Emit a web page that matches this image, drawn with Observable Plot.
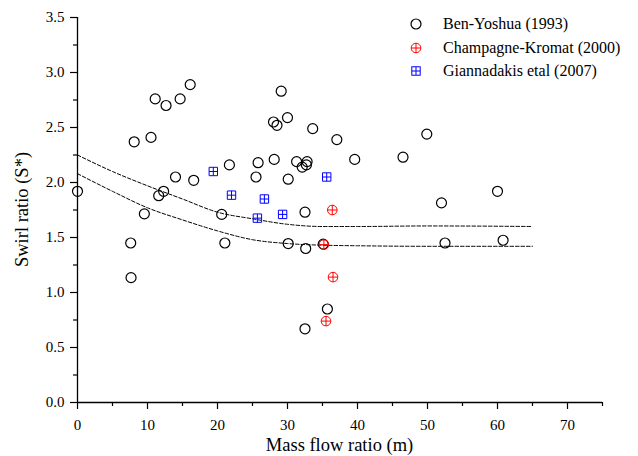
<!DOCTYPE html>
<html><head><meta charset="utf-8">
<script src="https://cdn.jsdelivr.net/npm/d3@7"></script>
<script src="https://cdn.jsdelivr.net/npm/@observablehq/plot@0.6"></script>
<style>
body{margin:0;background:#fff;}
#wrap{position:relative;width:638px;height:456px;font-family:"Liberation Serif","Times New Roman",serif;color:#000;}
#wrap svg text{font-family:"Liberation Serif","Times New Roman",serif !important;}
.sym{position:absolute;width:12px;height:12px;overflow:visible;}
.lt{position:absolute;left:443px;height:18px;line-height:18px;white-space:nowrap;font-size:16px;}
</style></head><body><div id="wrap"></div>
<script>
// Ben-Yoshua (1993)
const benX = [0, 8.1, 10.5, 11.1, 12.65, 14.66, 16.1, 14.0, 16.6, 11.6, 12.3, 21.7, 25.5, 25.8, 7.6, 7.65, 9.55, 20.6, 21.05, 29.1, 28.0, 28.5, 30.0, 33.6, 37.05, 28.1, 30.1, 31.3, 32.1, 32.7, 32.8, 39.6, 32.5, 30.1, 32.6, 35.1, 35.7, 32.5, 49.9, 46.5, 60.0, 52.0, 52.5, 60.8];
const benY = [1.92, 2.37, 2.41, 2.76, 2.70, 2.76, 2.89, 2.05, 2.02, 1.88, 1.92, 2.16, 2.05, 2.18, 1.45, 1.135, 1.715, 1.71, 1.45, 2.83, 2.55, 2.52, 2.59, 2.49, 2.39, 2.21, 2.03, 2.19, 2.14, 2.16, 2.19, 2.21, 1.73, 1.445, 1.40, 1.44, 0.85, 0.67, 2.44, 2.23, 1.92, 1.815, 1.45, 1.475];
// Champagne-Kromat (2000)
const chX = [36.4, 35.2, 36.5, 35.5];
const chY = [1.75, 1.435, 1.14, 0.74];
// Giannadakis etal (2007)
const giX = [19.4, 22.0, 35.6, 26.7, 25.7, 29.3];
const giY = [2.10, 1.885, 2.05, 1.85, 1.676, 1.71];
// dashed bounds
const bandX = [0, 5, 10, 15, 20, 25, 30, 35, 40, 50, 65];
const upperY = [2.25, 2.10, 1.97, 1.85, 1.73, 1.67, 1.62, 1.60, 1.60, 1.605, 1.60];
const lowerY = [2.08, 1.92, 1.77, 1.66, 1.56, 1.48, 1.445, 1.43, 1.425, 1.42, 1.42];
// ticks
const xMajor = [0, 10, 20, 30, 40, 50, 60, 70];
const xMinor = [5, 15, 25, 35, 45, 55, 65, 75];
const yMajor = [0, 0.5, 1, 1.5, 2, 2.5, 3, 3.5];
const yMinor = [0.25, 0.75, 1.25, 1.75, 2.25, 2.75, 3.25];
const seriesNames = ["Ben-Yoshua (1993)", "Champagne-Kromat (2000)", "Giannadakis etal (2007)"];
const xTitle = "Mass flow ratio (m)";
const yTitle = "Swirl ratio (S*)";

const zip = (xs, ys) => xs.map((x, i) => ({x, y: ys[i]}));
const ben = zip(benX, benY), ch = zip(chX, chY), gi = zip(giX, giY);
const up = zip(bandX, upperY), lo = zip(bandX, lowerY);

const circlePlus = {draw(c, size){const r=Math.sqrt(size/Math.PI); c.moveTo(r,0); c.arc(0,0,r,0,2*Math.PI); c.moveTo(-r,0); c.lineTo(r,0); c.moveTo(0,-r); c.lineTo(0,r);}};
const squareGrid = {draw(c, size){const h=Math.sqrt(size/Math.PI); c.moveTo(-h,-h); c.lineTo(h,-h); c.lineTo(h,h); c.lineTo(-h,h); c.closePath(); c.moveTo(-h,0); c.lineTo(h,0); c.moveTo(0,-h); c.lineTo(0,h);}};

const RED = "#ff0000", BLUE = "#0000ff";
const SERIF = "Liberation Serif, Times New Roman, serif";

const plot = Plot.plot({
  width: 638, height: 456,
  marginLeft: 77, marginRight: 36, marginTop: 17, marginBottom: 54,
  style: {fontFamily: SERIF, fontSize: "15px", color: "#000", background: "#fff", overflow: "visible"},
  x: {domain: [0, 75]},
  y: {domain: [0, 3.5]},
  marks: [
    Plot.axisX(xMajor, {tickSize: 7, tickPadding: 10, tickFormat: d => String(d), label: null, fontFamily: SERIF, fontSize: 15, stroke: "#000", strokeWidth: 1.2, strokeOpacity: 1}),
    Plot.axisX(xMinor, {tickSize: 4, tickFormat: () => "", label: null, stroke: "#000", strokeWidth: 1.2, strokeOpacity: 1}),
    Plot.axisY(yMajor, {tickSize: 7, tickPadding: 6, tickFormat: d3.format(".1f"), label: null, fontFamily: SERIF, fontSize: 15, stroke: "#000", strokeWidth: 1.2, strokeOpacity: 1}),
    Plot.axisY(yMinor, {tickSize: 4, tickFormat: () => "", label: null, stroke: "#000", strokeWidth: 1.2, strokeOpacity: 1}),
    Plot.ruleY([0], {stroke: "#000", strokeWidth: 1.3}),
    Plot.ruleX([0], {stroke: "#000", strokeWidth: 1.3}),
    Plot.line(up, {x: "x", y: "y", curve: "monotone-x", stroke: "#000", strokeWidth: 1, strokeDasharray: "3.5,2"}),
    Plot.line(lo, {x: "x", y: "y", curve: "monotone-x", stroke: "#000", strokeWidth: 1, strokeDasharray: "3.5,2"}),
    Plot.dot(ben, {x: "x", y: "y", r: 5, stroke: "#000", strokeWidth: 1.2, fill: "none"}),
    Plot.dot(gi, {x: "x", y: "y", r: 4.2, symbol: squareGrid, stroke: BLUE, strokeWidth: 1, fill: "none"}),
    Plot.dot(ch, {x: "x", y: "y", r: 4.8, symbol: circlePlus, stroke: RED, strokeWidth: 1, fill: "none"})
  ]
});

const wrap = document.getElementById("wrap");
wrap.appendChild(plot);
const svg = d3.select(plot);
svg.append("text").attr("x", 339.5).attr("y", 451).attr("text-anchor", "middle")
  .attr("font-size", 18.5).attr("fill", "#000").text(xTitle);
svg.append("text").attr("transform", "translate(28,209.5) rotate(-90)").attr("text-anchor", "middle")
  .attr("font-size", 18.5).attr("fill", "#000").text(yTitle);

// legend
const legendRows = [
  {name: seriesNames[0], color: "#000", kind: "circle", cy: 24},
  {name: seriesNames[1], color: RED, kind: "circlePlus", cy: 48},
  {name: seriesNames[2], color: BLUE, kind: "square", cy: 71}
];
for (const row of legendRows) {
  let shape;
  if (row.kind === "circle") shape = `<circle cx="6" cy="6" r="5" fill="none" stroke="${row.color}" stroke-width="1.2"/>`;
  else if (row.kind === "circlePlus") shape = `<circle cx="6" cy="6" r="4.8" fill="none" stroke="${row.color}"/><path d="M1.2,6H10.8M6,1.2V10.8" stroke="${row.color}"/>`;
  else shape = `<rect x="1.8" y="1.8" width="8.4" height="8.4" fill="none" stroke="${row.color}"/><path d="M1.8,6H10.2M6,1.8V10.2" stroke="${row.color}"/>`;
  const s = document.createElementNS("http://www.w3.org/2000/svg", "svg");
  s.setAttribute("class", "sym");
  s.setAttribute("viewBox", "0 0 12 12");
  s.style.left = (416 - 6) + "px";
  s.style.top = (row.cy - 6) + "px";
  s.innerHTML = shape;
  wrap.appendChild(s);
  const t = document.createElement("div");
  t.className = "lt";
  t.style.top = (row.cy - 9) + "px";
  t.textContent = row.name;
  wrap.appendChild(t);
}
</script>
</body></html>
